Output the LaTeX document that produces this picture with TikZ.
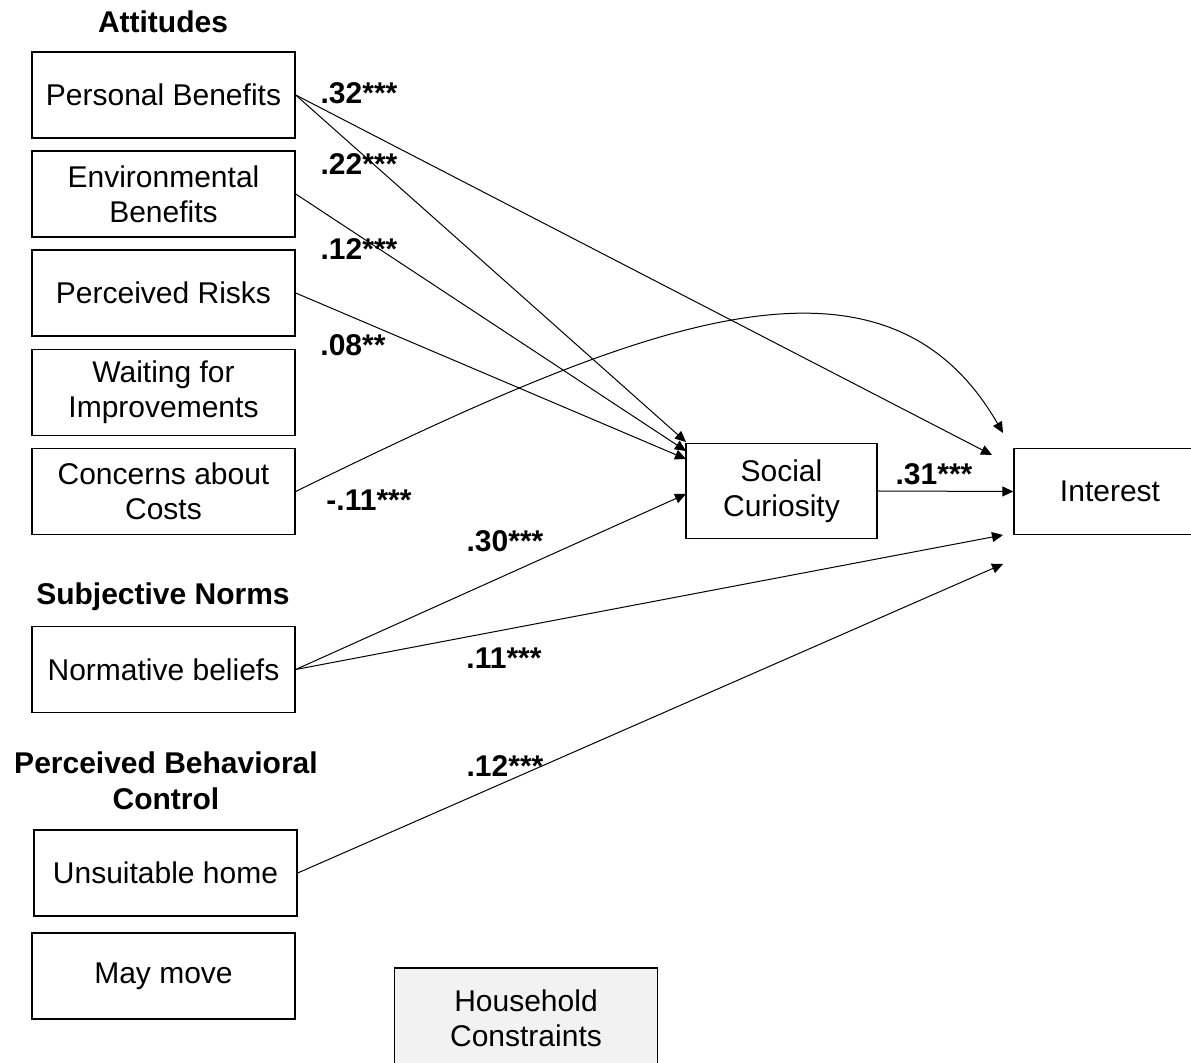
\documentclass[tikz,border=0pt]{standalone}
\usepackage{fontspec}
\setmainfont{Liberation Sans}
\usetikzlibrary{arrows.meta}

\begin{document}
\begin{tikzpicture}[x=0.5pt,y=-0.5pt]
				\tikzset{every node/.style={font=\fontsize{15}{17.5}\selectfont}}
				\tikzset{var/.style={draw,line width=0.7pt,minimum width=131.5pt,minimum height=43pt,align=center,inner sep=0pt}}
				\tikzset{coef/.style={font=\fontsize{15}{17.5}\selectfont\bfseries,inner sep=0pt}}
				\tikzset{head/.style={font=\fontsize{15}{18}\selectfont\bfseries,align=center,inner sep=0pt}}
				\tikzset{effect/.style={-{Triangle[length=5.5pt,width=5pt]},line width=0.5pt}}
				\useasboundingbox (0,0) rectangle (1191,1063);
				\node[head] (att) at (163,22) {Attitudes};
				\node[var] (pb) at (163.5,95) {Personal Benefits};
				\node[var] (eb) at (163.5,194) {Environmental\\Benefits};
				\node[var] (pr) at (163.5,293) {Perceived Risks};
				\node[var] (wi) at (163.5,392.5) {Waiting for\\Improvements};
				\node[var] (cc) at (163.5,491.5) {Concerns about\\Costs};
				\node[head] (sn) at (163,597) {Subjective Norms};
				\node[var] (nb) at (163.5,669.5) {Normative beliefs};
				\node[head] (pbc) at (166,781) {Perceived Behavioral\\Control};
				\node[var] (uh) at (165.5,873) {Unsuitable home};
				\node[var] (mm) at (163.5,976) {May move};
				\node[var,fill=gray!10,minimum height=50pt] (hc) at (526,1018) {Household\\Constraints};
				\node[var,minimum width=95.5pt,minimum height=47.5pt] (sc) at (781.5,491) {Social\\Curiosity};
				\node[var,minimum width=96pt] (it) at (1110,491.5) {Interest};
				\coordinate (sc1) at (686,442);
				\coordinate (sc2) at (686,451);
				\coordinate (sc3) at (686,459);
				\coordinate (sc4) at (686,494);
				\coordinate (it1) at (1003,433);
				\coordinate (it2) at (992,455);
				\coordinate (it3) at (1003,535);
				\coordinate (it4) at (1003,564);
				\draw[effect] (pb.east) -- (sc1);
				\draw[effect] (eb.east) -- (sc2);
				\draw[effect] (pr.east) -- (sc3);
				\draw[effect] (nb.east) -- (sc4);
				\draw[effect] (pb.east) -- (it2);
				\draw[effect] (cc.east) .. controls (639,323) and (883,225) .. (it1);
				\draw[effect] (sc.east) -- (it.west);
				\draw[effect] (nb.east) -- (it3);
				\draw[effect] (uh.east) -- (it4);
				\node[coef] (c1) at (359,93) {.32***};
				\node[coef] (c2) at (359,164) {.22***};
				\node[coef] (c3) at (359,249) {.12***};
				\node[coef] (c4) at (353,345) {.08**};
				\node[coef] (c5) at (369,500) {-.11***};
				\node[coef] (c6) at (505,541) {.30***};
				\node[coef] (c7) at (504,658) {.11***};
				\node[coef] (c8) at (505,766) {.12***};
				\node[coef] (c9) at (934,474) {.31***};
			\end{tikzpicture}
\end{document}
